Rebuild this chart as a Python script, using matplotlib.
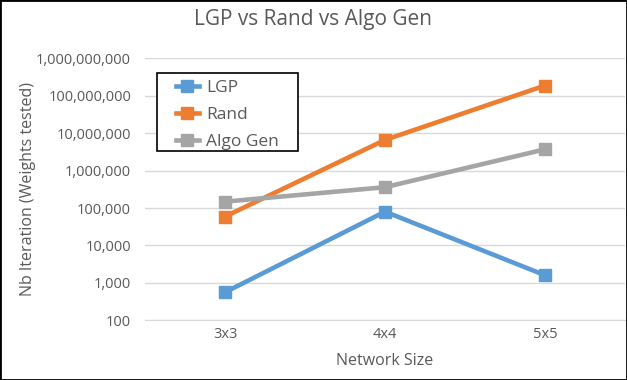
import matplotlib
matplotlib.use("Agg")
import matplotlib.pyplot as plt
from matplotlib.ticker import FixedLocator, FuncFormatter

plt.rcParams["font.family"] = ["Open Sans", "DejaVu Sans"]

sizes = ["3x3", "4x4", "5x5"]
lgp = [560, 80000, 1600]
rand = [59000, 6600000, 187000000]
algo_gen = [148000, 360000, 3700000]

series = [
    ("LGP", lgp, "#5B9BD5"),
    ("Rand", rand, "#ED7D31"),
    ("Algo Gen", algo_gen, "#A5A5A5"),
]
text_color = "#595959"

fig = plt.figure(figsize=(6.27, 3.80), dpi=100)
ax = fig.add_axes([145 / 627, 1 - 320.3 / 380, 480 / 627, (320.3 - 58.3) / 380])

x = list(range(len(sizes)))
for name, vals, color in series:
    ax.plot(x, vals, color=color, lw=3.3, marker="s", ms=8.5, label=name)

ax.set_yscale("log")
ax.set_ylim(100, 1e9)
ax.set_xlim(-0.5, 2.5)
ax.yaxis.set_major_locator(FixedLocator([10 ** k for k in range(2, 10)]))
ax.yaxis.set_minor_locator(FixedLocator([]))
ax.yaxis.set_major_formatter(FuncFormatter(lambda v, p: f"{int(round(v)):,}"))
ax.set_xticks(x)
ax.set_xticklabels(sizes)

ax.grid(axis="y", color="#D9D9D9", lw=1)
ax.set_axisbelow(True)
for s in ["top", "right", "left"]:
    ax.spines[s].set_visible(False)
ax.spines["bottom"].set_color("#D9D9D9")
ax.tick_params(length=0, colors=text_color, labelsize=10.5)
ax.tick_params(axis="x", pad=5)
ax.tick_params(axis="y", pad=10)

fig.text(0.5, 1 - 19 / 380, "LGP vs Rand vs Algo Gen", fontsize=15,
         color=text_color, ha="center", va="center")
ax.set_xlabel("Network Size", fontsize=11.5, color=text_color, labelpad=8)
ax.set_ylabel("Nb Iteration (Weights tested)", fontsize=11.5, color=text_color)
ax.yaxis.set_label_coords((36 - 145) / 480, 0.5)

# legend box (frame drawn separately so its padding matches the original)
frame = plt.Rectangle((157 / 627, 1 - 151 / 380), 141 / 627, 78 / 380,
                      transform=fig.transFigure, facecolor="white",
                      edgecolor="black", lw=1.2, zorder=4, clip_on=False)
ax.add_patch(frame)

leg = ax.legend(loc="upper left", bbox_to_anchor=(176 / 627, 1 - 79.5 / 380),
                bbox_transform=fig.transFigure, frameon=False, fontsize=12.5,
                handlelength=1.3, labelcolor=text_color, borderpad=0,
                borderaxespad=0, labelspacing=0.64, handletextpad=0.45)
leg.set_zorder(5)

fig.patches.append(plt.Rectangle((0, 0), 1, 1, transform=fig.transFigure,
                                 fill=False, edgecolor="black", lw=2))

fig.savefig("out.png", dpi=100)
